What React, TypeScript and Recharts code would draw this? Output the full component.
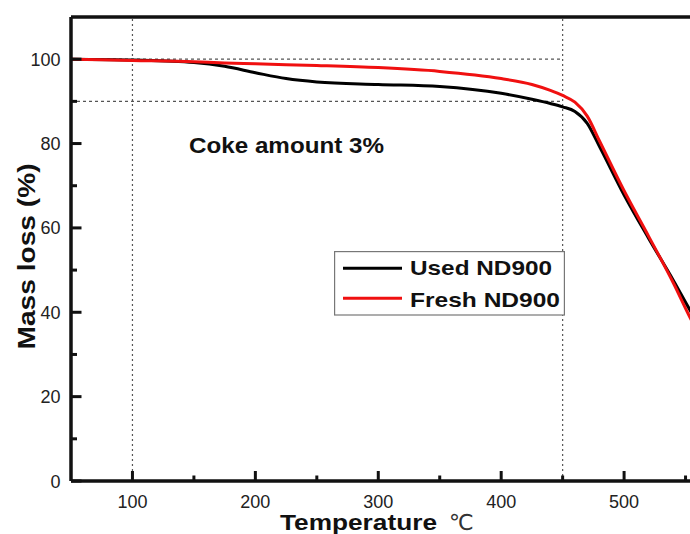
import {
  LineChart,
  Line,
  XAxis,
  YAxis,
  ReferenceLine,
  Legend,
  Customized,
} from "recharts";

// temperature (℃) and mass (%)
const temps = [50, 100, 150, 175, 200, 225, 250, 300, 350, 400, 425, 440, 450, 460, 470, 480, 500, 520, 540, 555, 570];
const usedMass = [100, 99.8, 99.2, 98.3, 96.8, 95.4, 94.6, 94.0, 93.5, 91.9, 90.5, 89.5, 88.7, 87.6, 84.8, 79.3, 67.8, 57.5, 47.6, 39.8, 32.5];
const freshMass = [100, 99.7, 99.4, 99.1, 98.9, 98.7, 98.5, 98.0, 97.1, 95.4, 94.0, 92.6, 91.4, 89.8, 86.5, 80.6, 68.8, 58.0, 47.0, 38.0, 30.5];

const xTicks = [100, 150, 200, 250, 300, 350, 400, 450, 500, 550];
const yTicks = [0, 10, 20, 30, 40, 50, 60, 70, 80, 90, 100];

const seriesNames = ["Used ND900", "Fresh ND900"];
const seriesColors = ["#000000", "#f01010"];

const data = temps.map((t, i) => ({ t, used: usedMass[i], fresh: freshMass[i] }));

const FONT = "'Liberation Sans', Arial, sans-serif";
const INK = "#111";
const DASH = "#555";

const XTick = (props: any) => {
  const { x, y, payload } = props;
  const major = payload.value % 100 === 0;
  return (
    <g>
      <line x1={x} x2={x} y1={y} y2={y - (major ? 10 : 5.5)} stroke={INK} strokeWidth={3} />
      {major && (
        <text x={x} y={y + 27} textAnchor="middle" fontSize={18} fill="#222" fontFamily={FONT}>
          {payload.value}
        </text>
      )}
    </g>
  );
};

const YTick = (props: any) => {
  const { x, y, payload } = props;
  const major = payload.value % 20 === 0;
  return (
    <g>
      <line x1={x} x2={x + (major ? 10.5 : 6)} y1={y} y2={y} stroke={INK} strokeWidth={3} />
      {major && (
        <text x={x - 10.5} y={y + 6.5} textAnchor="end" fontSize={18} fill="#222" fontFamily={FONT}>
          {payload.value}
        </text>
      )}
    </g>
  );
};

const renderLegend = (props: any) => {
  const items = [...(props.payload || [])].sort(
    (a: any, b: any) => seriesNames.indexOf(a.value) - seriesNames.indexOf(b.value)
  );
  return (
    <svg width={231} height={65} style={{ display: "block" }}>
      <rect x={0.6} y={0.6} width={229.8} height={63.4} fill="#fff" stroke="#777" strokeWidth={1.2} />
      {items.map((p: any, i: number) => (
        <g key={p.value}>
          <line x1={9} x2={68} y1={17.3 + i * 30} y2={17.3 + i * 30} stroke={p.color} strokeWidth={3} />
          <text
            x={76}
            y={24 + i * 31.7}
            fontSize={21}
            fontWeight="bold"
            fill={INK}
            fontFamily={FONT}
            textLength={i === 0 ? 142 : 150}
            lengthAdjust="spacingAndGlyphs"
          >
            {p.value}
          </text>
        </g>
      ))}
    </svg>
  );
};

const Annotations = () => (
  <g fontFamily={FONT}>
    <text x={189} y={153.3} fontSize={22} fontWeight="bold" fill={INK} textLength={195} lengthAdjust="spacingAndGlyphs">
      Coke amount 3%
    </text>
    <text x={280} y={530} fontSize={22} fontWeight="bold" fill={INK} textLength={157} lengthAdjust="spacingAndGlyphs">
      Temperature
    </text>
    <text x={449} y={530} fontSize={22} fill="#333" fontFamily="'DejaVu Sans', sans-serif">
      ℃
    </text>
    <text
      x={0}
      y={0}
      transform="translate(35 256.5) rotate(-90)"
      textAnchor="middle"
      fontSize={24}
      fontWeight="bold"
      fill={INK}
      textLength={186}
      lengthAdjust="spacingAndGlyphs"
    >
      Mass loss (%)
    </text>
  </g>
);

export default function App() {
  return (
    <div
      style={{
        position: "fixed",
        left: 0,
        top: 0,
        width: 690,
        height: 534,
        overflow: "hidden",
        background: "#fff",
      }}
    >
      <LineChart width={757} height={534} data={data} margin={{ top: 17, right: 10, left: 0, bottom: 0 }}>
        <XAxis
          type="number"
          dataKey="t"
          domain={[50, 600]}
          ticks={xTicks}
          interval={0}
          allowDataOverflow
          height={53}
          tickSize={0}
          tickMargin={0}
          tickLine={false}
          tick={<XTick />}
          axisLine={{ stroke: INK, strokeWidth: 3.5 }}
        />
        <YAxis
          type="number"
          domain={[0, 110]}
          ticks={yTicks}
          interval={0}
          allowDataOverflow
          width={71}
          tickSize={0}
          tickMargin={0}
          tickLine={false}
          tick={<YTick />}
          axisLine={{ stroke: INK, strokeWidth: 3.5 }}
        />
        <ReferenceLine x={100} stroke={DASH} strokeWidth={1.2} strokeDasharray="2 3" />
        <ReferenceLine x={450} stroke={DASH} strokeWidth={1.2} strokeDasharray="2 3" />
        <ReferenceLine
          segment={[{ x: 50, y: 100 }, { x: 450, y: 100 }]}
          stroke={DASH}
          strokeWidth={1.2}
          strokeDasharray="3 3"
        />
        <ReferenceLine
          segment={[{ x: 50, y: 90 }, { x: 450, y: 90 }]}
          stroke={DASH}
          strokeWidth={1.2}
          strokeDasharray="3 3"
        />
        <ReferenceLine y={110} stroke={INK} strokeWidth={3.5} />
        <ReferenceLine x={600} stroke={INK} strokeWidth={3.5} />
        <Line
          type="monotone"
          dataKey="used"
          name={seriesNames[0]}
          stroke={seriesColors[0]}
          strokeWidth={3}
          dot={false}
          legendType="line"
          isAnimationActive={false}
        />
        <Line
          type="monotone"
          dataKey="fresh"
          name={seriesNames[1]}
          stroke={seriesColors[1]}
          strokeWidth={3}
          dot={false}
          legendType="line"
          isAnimationActive={false}
        />
        <Legend
          layout="vertical"
          align="center"
          verticalAlign="middle"
          content={renderLegend}
          wrapperStyle={{ left: 334, top: 251, width: 231, height: 65 }}
        />
        <Customized component={Annotations} />
      </LineChart>
    </div>
  );
}
